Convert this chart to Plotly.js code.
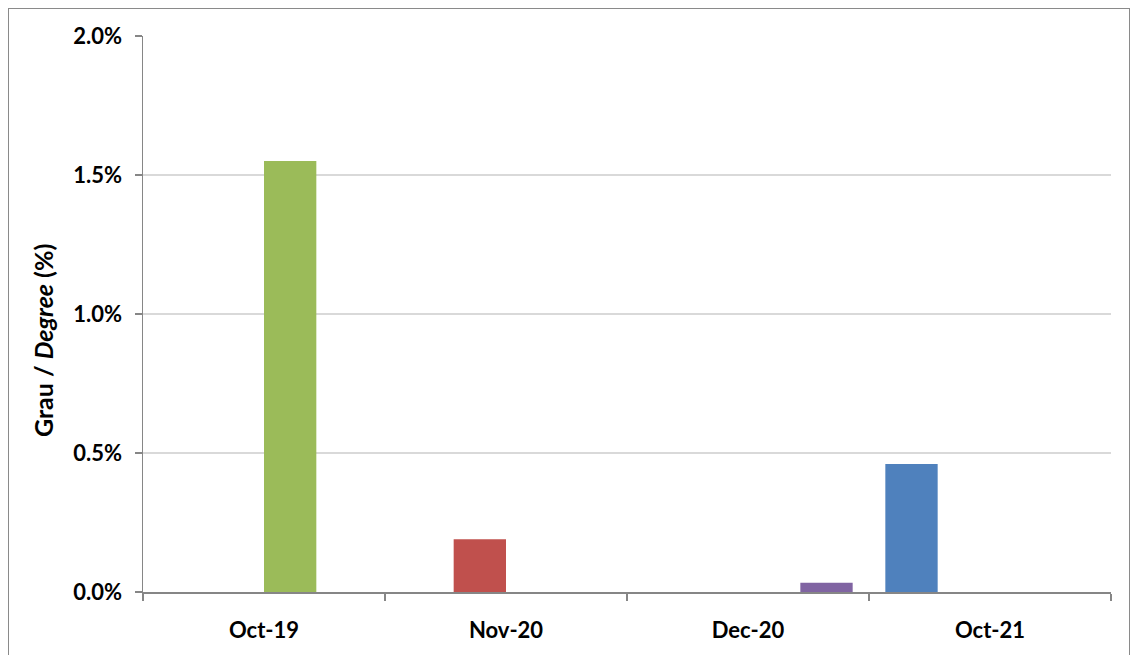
<!DOCTYPE html>
<html>
<head>
<meta charset="utf-8">
<script src="https://cdn.plot.ly/plotly-3.0.1.min.js"></script>
<style>
html,body{margin:0;padding:0;background:#fff;}
#chart{width:1134px;height:655px;position:absolute;left:0;top:0;}
#frame{position:absolute;left:8px;top:8px;width:1122px;height:700px;border:1.5px solid #8a8a8a;box-sizing:border-box;pointer-events:none;}
</style>
</head>
<body>
<div id="chart"></div>
<div id="frame"></div>
<script>
const categories = ["Oct-19", "Nov-20", "Dec-20", "Oct-21"];
const series1 = [null, null, null, 0.46];   // blue
const series2 = [null, 0.19, null, null];   // red
const series3 = [1.55, null, null, null];   // green
const series4 = [null, null, 0.033, null];  // purple
const colors = ["#4F81BD", "#C0504D", "#9BBB59", "#8064A2"];
const yTickVals = [0, 0.5, 1.0, 1.5, 2.0];
const yTickText = ["0.0%", "0.5%", "1.0%", "1.5%", "2.0%"];
const yTitle = "<b>Grau / <i>Degree</i> (%)</b>";
const seriesList = [series1, series2, series3, series4];

const traces = seriesList.map((vals, i) => ({
  type: "bar",
  x: categories,
  y: vals,
  marker: {color: colors[i], line: {width: 0}},
  showlegend: false,
  hoverinfo: "x+y"
}));

const fontFam = "Lato, 'Open Sans', sans-serif";
const layout = {
  width: 1134,
  height: 655,
  margin: {l: 143, r: 23, t: 36, b: 63},
  paper_bgcolor: "#fff",
  plot_bgcolor: "#fff",
  barmode: "group",
  bargap: 0.135,
  bargroupgap: 0,
  font: {family: fontFam, size: 22, color: "#000"},
  xaxis: {
    type: "category",
    tickson: "boundaries",
    ticks: "outside",
    ticklen: 7,
    tickcolor: "#868686",
    tickwidth: 1.5,
    showline: true,
    linecolor: "#868686",
    linewidth: 1.5,
    showgrid: false,
    ticklabelstandoff: 18,
    tickfont: {family: fontFam, size: 22, color: "#000", weight: "bold"}
  },
  yaxis: {
    range: [0, 2.0],
    tickvals: yTickVals,
    ticktext: yTickText,
    ticks: "outside",
    ticklen: 7,
    tickcolor: "#868686",
    tickwidth: 1.5,
    showline: true,
    linecolor: "#868686",
    linewidth: 1.5,
    showgrid: true,
    gridcolor: "#d9d9d9",
    gridwidth: 1.5,
    zeroline: false,
    ticklabelstandoff: 8,
    tickfont: {family: fontFam, size: 22, color: "#000", weight: "bold"}
  },
  annotations: [{
    text: yTitle,
    xref: "paper", yref: "paper",
    x: -0.1033, y: 0.4514,
    xanchor: "center", yanchor: "middle",
    textangle: -90,
    showarrow: false,
    font: {family: fontFam, size: 25, color: "#000"}
  }]
};

Plotly.newPlot("chart", traces, layout, {displayModeBar: false, staticPlot: true});
</script>
</body>
</html>
